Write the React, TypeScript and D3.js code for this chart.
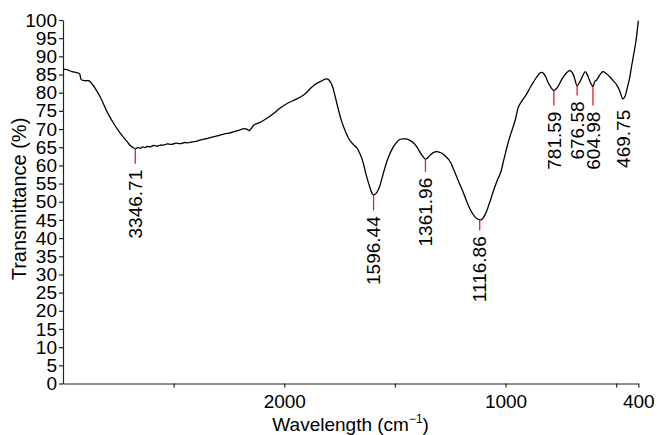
import React, { useEffect, useRef } from 'react';
import * as d3 from 'd3';

// FTIR spectrum (wavenumber in cm-1, transmittance in %)
const wavenumbers = [
  4000, 3960, 3920, 3876, 3850, 3835, 3800, 3770, 3750, 3709, 3664, 3603, 3543, 3483, 3422,
  3390, 3360, 3347, 3320, 3300, 3280, 3260, 3240, 3210, 3180, 3150, 3120, 3090, 3058, 3020,
  2980, 2940, 2900, 2870, 2847, 2800, 2756, 2700, 2650, 2605, 2540, 2500, 2454, 2400, 2363,
  2340, 2318, 2295, 2272, 2230, 2181, 2140, 2091, 2040, 1985, 1950, 1925, 1900, 1880, 1855,
  1835, 1812, 1800, 1790, 1782, 1770, 1759, 1745, 1737, 1720, 1707, 1690, 1672, 1660, 1647,
  1632, 1617, 1602, 1596, 1585, 1572, 1556, 1534, 1511, 1495, 1482, 1465, 1444, 1430, 1414,
  1400, 1384, 1370, 1362, 1350, 1339, 1325, 1309, 1290, 1271, 1250, 1234, 1215, 1196, 1178,
  1159, 1140, 1128, 1117, 1106, 1095, 1083, 1068, 1053, 1038, 1023, 1008, 993, 980, 970,
  956, 941, 925, 903, 888, 873, 858, 843, 835, 828, 818, 806, 792, 782, 772,
  761, 750, 738, 724, 711, 702, 693, 685, 677, 668, 660, 650, 640, 630, 621,
  612, 605, 597, 588, 575, 560, 545, 528, 512, 497, 482, 470, 460, 452, 440,
  430, 420, 410, 404, 400
];
const transmittance = [
  86.5, 86.3, 85.8, 85.5, 85.2, 83.6, 83.3, 83.3, 82.9, 81.2, 78.9, 74.8, 71.6, 68.9, 66.6,
  65.4, 64.8, 64.6, 64.9, 64.7, 65.1, 64.9, 65.2, 65.1, 65.5, 65.3, 65.6, 65.6, 65.9, 65.8,
  66.1, 66.0, 66.3, 66.2, 66.4, 66.6, 67.0, 67.4, 67.8, 68.1, 68.7, 68.9, 69.3, 69.8, 70.1,
  70.0, 69.6, 70.3, 71.2, 71.7, 72.5, 73.3, 74.4, 75.7, 77.1, 78.1, 78.9, 80.0, 81.3, 82.5,
  83.1, 83.8, 83.6, 82.8, 81.7, 79.0, 76.2, 73.0, 71.5, 68.8, 67.2, 65.9, 64.8, 63.5, 61.5,
  57.9, 54.7, 52.2, 51.9, 52.3, 53.7, 57.0, 61.5, 64.7, 66.1, 67.0, 67.3, 67.2, 66.8, 66.1,
  65.0, 63.4, 62.2, 61.7, 62.2, 62.9, 63.6, 63.8, 63.4, 62.5, 61.0, 58.8, 56.0, 53.3, 50.5,
  47.8, 46.0, 45.3, 45.0, 45.2, 46.2, 47.8, 50.5, 53.3, 55.8, 57.9, 61.5, 65.2, 68.0, 69.8,
  72.5, 76.2, 77.8, 79.8, 81.5, 83.0, 84.4, 85.5, 85.6, 85.3, 84.3, 82.6, 81.2, 80.6, 81.0,
  81.9, 83.2, 84.4, 85.5, 86.1, 85.8, 84.9, 83.3, 81.9, 82.6, 83.5, 84.8, 85.8, 84.9, 83.5,
  82.3, 81.7, 83.0, 83.5, 84.8, 85.8, 85.3, 84.3, 83.2, 82.1, 80.2, 78.3, 79.0, 80.8, 83.8,
  87.4, 90.8, 94.5, 97.5, 99.8
];

// Marked peaks
const peakWavenumbers = [3346.71, 1596.44, 1361.96, 1116.86, 781.59, 676.58, 604.98, 469.75];
const peakMinima = [64.7, 51.9, 61.7, 45.0, 80.6, 81.9, 81.7, 78.3];
const peakLabelTops = [58.8, 46.0, 56.6, 40.5, 74.8, 77.6, 74.8, 75.3];
const peakHasLine = [true, true, true, true, true, true, true, false];

const xTickValues = [3000, 2000, 1500, 1000, 500, 400];
const xTickLabels = ['', '2000', '', '1000', '', '400'];
const yTickValues = d3.range(0, 101, 5);

const FONT = '"Liberation Sans", Arial, Helvetica, sans-serif';

const App: React.FC = () => {
  const svgRef = useRef<SVGSVGElement>(null);
  const width = 658;
  const height = 435;

  useEffect(() => {
    if (!svgRef.current) return;
    const svg = d3.select(svgRef.current);
    svg.selectAll('*').remove();

    const left = 63, right = 638.3, top = 20, bottom = 383.5;

    // 4000-2000 is drawn at half the scale of 2000-400
    const x = d3.scaleLinear()
      .domain([4000, 2000, 400])
      .range([left, left + (right - left) * (1000 / 2600), right]);
    const y = d3.scaleLinear().domain([0, 100]).range([bottom, top]);

    // Y axis
    const yAxis = svg.append('g')
      .attr('transform', `translate(${left},0)`)
      .call(d3.axisLeft(y).tickValues(yTickValues).tickSize(4).tickSizeOuter(0).tickPadding(2));
    yAxis.selectAll('text')
      .style('font-size', '19px')
      .style('font-family', FONT)
      .attr('fill', '#000');
    yAxis.selectAll('line, path').attr('stroke', '#222').attr('stroke-width', 1.2);

    // X axis
    const xAxis = svg.append('g')
      .attr('transform', `translate(0,${bottom})`)
      .call(d3.axisBottom(x)
        .tickValues(xTickValues)
        .tickFormat((_d, i) => xTickLabels[i])
        .tickSize(4)
        .tickSizeOuter(0)
        .tickPadding(7));
    xAxis.selectAll('text')
      .style('font-size', '19px')
      .style('font-family', FONT)
      .attr('fill', '#000');
    xAxis.selectAll('line, path').attr('stroke', '#222').attr('stroke-width', 1.2);

    // Axis titles
    const xTitle = svg.append('text')
      .attr('x', (left + right) / 2)
      .attr('y', 431)
      .attr('text-anchor', 'middle')
      .style('font-size', '19px')
      .style('font-family', FONT)
      .attr('fill', '#000');
    xTitle.append('tspan').text('Wavelength (cm');
    xTitle.append('tspan').attr('dy', -8).style('font-size', '12px').text('\u22121');
    xTitle.append('tspan').attr('dy', 8).text(')');

    svg.append('text')
      .attr('transform', `translate(25.5,199) rotate(-90)`)
      .attr('text-anchor', 'middle')
      .style('font-size', '20px')
      .style('font-family', FONT)
      .attr('fill', '#000')
      .text('Transmittance (%)');

    // Spectrum
    const points = wavenumbers.map((w, i) => [w, transmittance[i]] as [number, number]);
    const line = d3.line<[number, number]>()
      .x(d => x(d[0]))
      .y(d => y(d[1]))
      .curve(d3.curveCatmullRom.alpha(0.5));
    svg.append('path')
      .datum(points)
      .attr('d', line)
      .attr('fill', 'none')
      .attr('stroke', '#000')
      .attr('stroke-width', 1.3)
      .attr('stroke-linejoin', 'round');

    // Peak markers and labels
    peakWavenumbers.forEach((w, i) => {
      const px = x(w);
      const labelTop = y(peakLabelTops[i]);
      if (peakHasLine[i]) {
        svg.append('line')
          .attr('x1', px).attr('x2', px)
          .attr('y1', y(peakMinima[i]))
          .attr('y2', labelTop - 6)
          .attr('stroke', '#ee1c25')
          .attr('stroke-width', 1.3);
      }
      svg.append('text')
        .attr('transform', `translate(${px},${labelTop}) rotate(-90)`)
        .attr('text-anchor', 'end')
        .attr('dy', '0.35em')
        .style('font-size', '19px')
        .style('font-family', FONT)
        .attr('fill', '#000')
        .text(w.toFixed(2));
    });
  }, []);

  return (
    <svg
      ref={svgRef}
      width={width}
      height={height}
      style={{ position: 'absolute', left: 0, top: 0, background: '#fff' }}
    />
  );
};

export default App;
